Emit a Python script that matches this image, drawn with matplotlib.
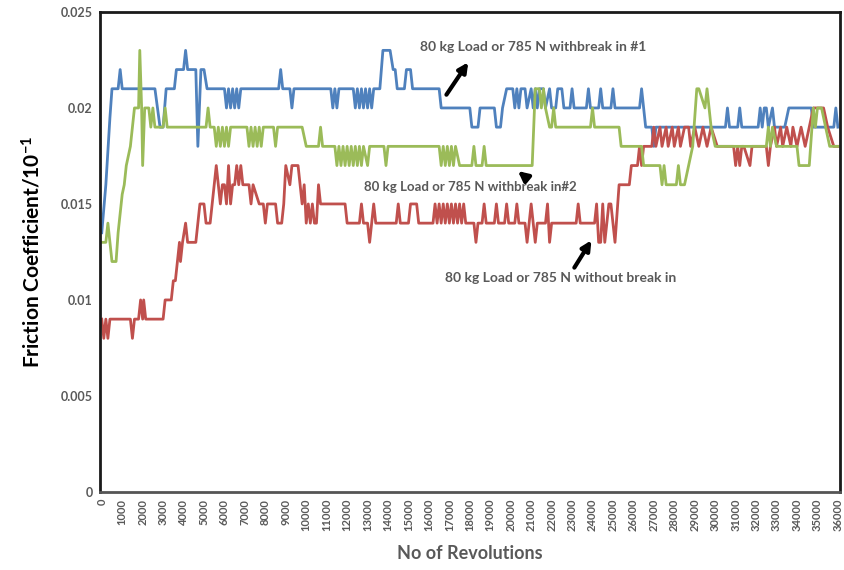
import numpy as np
import matplotlib
matplotlib.use("Agg")
import matplotlib.pyplot as plt

# friction coefficient, in units of 1e-3
blue_rev = [0, 200, 400, 500, 800, 900, 1000, 2600, 2850, 3000, 3150, 3550, 3650, 4000, 4100, 4200,
            4600, 4700, 4850, 5000, 5150, 6000, 6100, 6200, 6300, 6400, 6500, 6600, 6700, 6800,
            8650, 8750, 8850, 9200, 9300, 9400, 11200, 11300, 11400, 11500, 11600, 12300, 12400,
            12500, 12600, 12700, 12800, 12900, 13000, 13100, 13200, 13300, 13600, 13750, 14100,
            14250, 14350, 14450, 14800, 14900, 15100, 15200, 16500, 16600, 18000, 18100, 18400,
            18500, 19200, 19300, 19500, 19600, 19800, 20100, 20200, 20300, 20400, 20500, 20700,
            20800, 21000, 21100, 21200, 21300, 21400, 21600, 21700, 21900, 22000, 22200, 22300,
            22500, 22600, 22900, 23000, 23100, 23700, 23800, 23900, 24300, 24400, 24500, 24900,
            25000, 25100, 26300, 26400, 26500, 26600, 26900, 27000, 27100, 30500, 30600, 30700,
            31100, 31200, 31300, 32100, 32200, 32300, 32400, 32500, 32600, 32800, 32900, 33400,
            33600, 34700, 34800, 35800, 35900, 36000]
blue_cof = [13.5, 16, 19.5, 21, 21, 22, 21, 21, 19, 19, 21, 21, 22, 22, 23, 22,
            22, 18, 22, 22, 21, 21, 20, 21, 20, 21, 20, 21, 20, 21,
            21, 22, 21, 21, 20, 21, 21, 20, 21, 20, 21, 21, 20,
            21, 20, 21, 20, 21, 20, 21, 20, 21, 21, 23, 23,
            22, 22, 21, 21, 22, 22, 21, 21, 20, 20, 19, 19,
            20, 20, 19, 19, 20, 21, 21, 20, 21, 20, 21, 21,
            20, 21, 20, 21, 20, 21, 21, 20, 21, 20, 20, 21,
            21, 20, 20, 21, 20, 20, 21, 20, 20, 21, 20, 20,
            21, 20, 20, 21, 20, 19, 19, 18, 19, 19, 20, 19,
            19, 20, 19, 19, 20, 19, 20, 20, 19, 20, 19, 19,
            20, 20, 19, 19, 20, 19]

red_rev = [0, 100, 200, 300, 400, 1400, 1500, 1600, 1800, 1900, 2000, 2050, 2150, 3000, 3100, 3400,
           3500, 3600, 3700, 3800, 3850, 3950, 4100, 4200, 4600, 4700, 4800, 5000, 5100, 5300,
           5400, 5600, 5700, 5800, 5900, 6000, 6100, 6200, 6300, 6400, 6500, 6600, 6700, 6800,
           6900, 7200, 7300, 7400, 7700, 7900, 8000, 8100, 8500, 8600, 8800, 8900, 9000, 9200,
           9300, 9600, 9700, 9800, 9900, 10000, 10100, 10200, 10300, 10400, 10500, 10600, 10700,
           11900, 12000, 12600, 12700, 12800, 13000, 13100, 13200, 13300, 13400, 14400, 14500,
           14600, 15000, 15100, 15400, 15500, 16200, 16300, 16400, 16500, 16600, 16700, 16800,
           16900, 17000, 17100, 17200, 17300, 17400, 17500, 17600, 17700, 17800, 18200, 18300,
           18400, 18600, 18700, 18800, 19200, 19300, 19400, 19700, 19800, 19900, 20200, 20300,
           20400, 20700, 20800, 20900, 21000, 21100, 21200, 21300, 21700, 21800, 21900, 22000,
           23200, 23300, 23400, 24100, 24200, 24300, 24400, 24500, 24600, 24800, 24900, 25100,
           25300, 25800, 25900, 26200, 26300, 26400, 26500, 26900, 27000, 27100, 27300, 27400,
           27600, 27700, 27900, 28000, 28200, 28300, 28500, 28700, 28800, 29000, 29200, 29400,
           29600, 29800, 30100, 30900, 31000, 31100, 31200, 31300, 31400, 31700, 31800, 31900,
           32500, 32600, 32700, 32900, 33000, 33200, 33300, 33500, 33700, 33800, 34000, 34200,
           34400, 34600, 34800, 35300, 35500, 35800, 36000]
red_cof = [9, 8, 9, 8, 9, 9, 8, 9, 9, 10, 9, 10, 9, 9, 10, 10,
           11, 11, 12, 13, 12, 13, 14, 13, 13, 14, 15, 15, 14, 14,
           15, 17, 16, 15, 16, 16, 15, 17, 15, 16, 16, 17, 16, 17,
           16, 16, 15, 16, 15, 15, 14, 15, 15, 14, 14, 15, 17, 16,
           17, 17, 16, 15, 16, 14, 15, 14, 15, 14, 14, 16, 15,
           15, 14, 14, 15, 14, 14, 13, 14, 15, 14, 14, 15,
           14, 14, 15, 15, 14, 14, 15, 14, 15, 14, 15, 14,
           15, 14, 15, 14, 15, 14, 15, 14, 15, 14, 14, 13,
           14, 14, 15, 14, 14, 15, 14, 14, 15, 14, 14, 15,
           14, 14, 13, 14, 15, 14, 13, 14, 14, 15, 13, 14,
           14, 15, 14, 14, 15, 13, 13, 15, 13, 15, 15, 13,
           16, 16, 17, 17, 18, 17, 18, 18, 19, 18, 19, 18,
           19, 18, 19, 18, 19, 18, 19, 19, 18, 19, 18, 19,
           18, 19, 18, 18, 17, 18, 17, 18, 18, 17, 18, 18,
           18, 17, 18, 19, 18, 19, 18, 19, 18, 19, 18, 19,
           18, 19, 20, 20, 19, 18, 18]

green_rev = [0, 200, 300, 400, 500, 700, 800, 1000, 1100, 1200, 1300, 1400, 1500, 1600, 1800, 1860,
             1950, 2000, 2100, 2300, 2400, 2500, 2600, 3000, 3100, 3200, 5100, 5200, 5300, 5500,
             5600, 5700, 5800, 5900, 6000, 6100, 6200, 6300, 7100, 7200, 7300, 7400, 7500, 7600,
             7700, 7800, 7900, 8400, 8500, 8600, 9800, 10000, 10600, 10700, 10800, 11400, 11500,
             11600, 11700, 11800, 11900, 12000, 12100, 12200, 12300, 12400, 12500, 12600, 12700,
             12800, 13000, 13100, 13800, 13900, 14000, 16500, 16600, 16700, 16800, 16900, 17000,
             17100, 17200, 17300, 17500, 18100, 18200, 18300, 18600, 18700, 18800, 21050, 21200,
             21400, 21500, 21600, 21700, 21900, 22000, 22100, 22200, 23900, 24000, 24100, 25300,
             25400, 26400, 26500, 27300, 27400, 27500, 27600, 27700, 28100, 28200, 28300, 28500,
             28700, 28900, 29100, 29200, 29500, 29600, 29800, 30000, 32500, 32600, 32700, 32800,
             33000, 34000, 34100, 34600, 34800, 34900, 35000, 35200, 35400, 35600, 36000]
green_cof = [13, 13, 14, 13, 12, 12, 13.5, 15.5, 16, 17, 17.5, 18, 19, 20, 20, 23,
             20, 17, 20, 20, 19, 20, 19, 19, 20, 19, 19, 20, 19, 19,
             18, 19, 18, 19, 18, 19, 18, 19, 19, 18, 19, 18, 19, 18,
             19, 18, 19, 19, 18, 19, 19, 18, 18, 19, 18, 18, 17,
             18, 17, 18, 17, 18, 17, 18, 17, 18, 17, 18, 17,
             18, 17, 18, 18, 17, 18, 18, 17, 18, 17, 18, 17,
             18, 17, 18, 17, 17, 18, 17, 17, 18, 17, 17, 21,
             21, 20, 21, 20, 19, 19, 20, 19, 19, 20, 19, 19,
             18, 18, 17, 17, 16, 17, 16, 16, 16, 17, 16, 16,
             17, 18, 21, 21, 20, 21, 19, 18, 18, 19, 18, 19,
             18, 18, 17, 17, 20, 19, 20, 20, 19, 18, 18]

xtick_vals = list(range(0, 36001, 1000))
ytick_vals = [0, 0.005, 0.01, 0.015, 0.02, 0.025]
ytick_labels = ["0", "0.005", "0.01", "0.015", "0.02", "0.025"]

plt.rcParams['font.family'] = ['Lato', 'DejaVu Sans']
plt.rcParams['mathtext.fontset'] = 'custom'
plt.rcParams['mathtext.rm'] = 'Lato:bold'
plt.rcParams['mathtext.default'] = 'rm'

fig = plt.figure(figsize=(8.45, 5.70), dpi=100)
ax = fig.add_axes([0.118, 0.137, 0.876, 0.842])

ax.plot(blue_rev, np.array(blue_cof) / 1000, color='#4F81BD', lw=2)
ax.plot(red_rev, np.array(red_cof) / 1000, color='#C0504D', lw=2)
ax.plot(green_rev, np.array(green_cof) / 1000, color='#9BBB59', lw=2)

ax.set_xlim(-100, 36100)
ax.set_ylim(0, 0.025)
ax.set_xticks(xtick_vals)
ax.set_xticklabels([str(v) for v in xtick_vals], rotation=90, fontsize=8,
                   fontweight='bold', color='#595959')
ax.set_yticks(ytick_vals)
ax.set_yticklabels(ytick_labels, fontsize=9, fontweight='bold', color='#595959')
ax.tick_params(length=0, pad=5)
for s in ax.spines.values():
    s.set_linewidth(2)
    s.set_color('#1a1a1a')
ax.spines['bottom'].set_color('#555555')

ax.set_xlabel("No of Revolutions", fontsize=13, fontweight='bold', color='#595959', labelpad=10)
ax.set_ylabel("Friction Coefficient/10$^{-1}$", fontsize=15, fontweight='bold', color='black', labelpad=12)

txt = dict(fontsize=10, fontweight='bold', color='#595959', ha='center', va='center')
ax.text(21090, 0.02318, "80 kg Load or 785 N withbreak in #1", **txt)
ax.text(18000, 0.01589, "80 kg Load or 785 N withbreak in#2", fontsize=9.5,
        fontweight='bold', color='#595959', ha='center', va='center')
ax.text(22460, 0.01115, "80 kg Load or 785 N without break in", **txt)

arr = dict(arrowstyle='-|>', color='black', lw=3, mutation_scale=14)
ax.annotate("", xy=(18000, 0.0225), xytext=(16780, 0.02057), arrowprops=arr)
ax.annotate("", xy=(20250, 0.0168), xytext=(20700, 0.01641), arrowprops=arr)
ax.annotate("", xy=(24020, 0.01323), xytext=(23040, 0.01156), arrowprops=arr)

fig.savefig("out.png", dpi=100)
